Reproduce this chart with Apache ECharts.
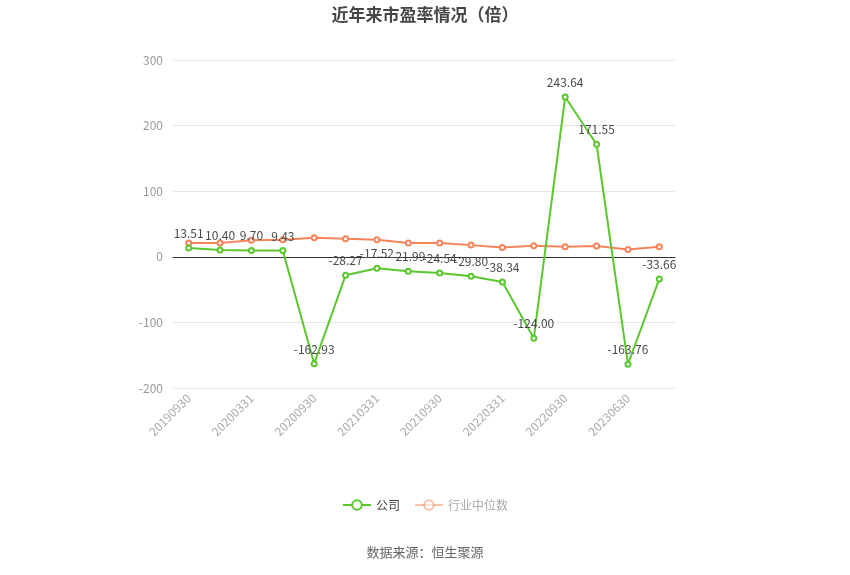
<!DOCTYPE html>
<html>
<head>
<meta charset="utf-8">
<script src="https://cdn.jsdelivr.net/npm/echarts@6/dist/echarts.min.js"></script>
<style>
  html, body { margin: 0; padding: 0; background: #fff; }
  #chart { width: 850px; height: 575px; }
</style>
</head>
<body>
<div id="chart"></div>
<script>
const categories = [
  '20190930', '20191231', '20200331', '20200630', '20200930', '20201231',
  '20210331', '20210630', '20210930', '20211231', '20220331', '20220630',
  '20220930', '20230331', '20230630', '20230930'
];
const companyPE = [
  13.51, 10.40, 9.70, 9.43, -162.93, -28.27, -17.52, -21.99,
  -24.54, -29.80, -38.34, -124.00, 243.64, 171.55, -163.76, -33.66
];
const industryPE = [
  20.9, 20.9, 25.4, 26.0, 29.0, 27.4, 26.0, 21.0,
  21.0, 17.8, 14.2, 16.8, 15.2, 16.3, 11.2, 15.2
];

const fontCN = '"Microsoft YaHei", "Noto Sans CJK SC", sans-serif';
const green = '#5ac72e';
const orange = '#f5845a';

const chart = echarts.init(document.getElementById('chart'));
chart.setOption({
  animation: false,
  textStyle: { fontFamily: fontCN },
  title: {
    text: '近年来市盈率情况（倍）',
    left: 'center',
    top: 1,
    textStyle: { fontSize: 17, fontWeight: 'bold', color: '#464646', fontFamily: fontCN }
  },
  grid: { left: 173, right: 175, top: 60, bottom: 187 },
  legend: {
    bottom: 59,
    left: 'center',
    itemWidth: 28,
    itemHeight: 12,
    itemGap: 14,
    textStyle: { fontSize: 12, fontFamily: fontCN },
    data: [
      { name: '公司', textStyle: { color: '#444' } },
      { name: '行业中位数', textStyle: { color: '#aaa' },
        itemStyle: { opacity: 0.5 }, lineStyle: { opacity: 0.5 } }
    ]
  },
  graphic: [{
    type: 'text',
    left: 'center',
    top: 546,
    style: { text: '数据来源：恒生聚源', fill: '#666', fontSize: 13, fontFamily: fontCN }
  }],
  xAxis: {
    type: 'category',
    data: categories,
    boundaryGap: true,
    axisLine: { onZero: true, lineStyle: { color: '#333' } },
    axisTick: { alignWithLabel: true, interval: 1, lineStyle: { color: '#333' } },
    axisLabel: { rotate: 45, interval: 1, color: '#aaa', fontSize: 12, margin: 8 }
  },
  yAxis: {
    type: 'value',
    min: -200,
    max: 300,
    interval: 100,
    axisLine: { show: false },
    axisTick: { show: false },
    axisLabel: { color: '#999', fontSize: 12, margin: 10 },
    splitLine: { lineStyle: { color: '#e3e7ef' } }
  },
  series: [
    {
      name: '行业中位数',
      type: 'line',
      data: industryPE,
      symbol: 'emptyCircle',
      symbolSize: 5,
      itemStyle: { color: orange },
      lineStyle: { color: orange, width: 2 }
    },
    {
      name: '公司',
      type: 'line',
      data: companyPE,
      symbol: 'emptyCircle',
      symbolSize: 5,
      itemStyle: { color: green },
      lineStyle: { color: green, width: 2 },
      label: {
        show: true,
        position: 'top',
        color: '#4a4a4a',
        fontSize: 12,
        formatter: p => p.value.toFixed(2)
      }
    }
  ]
});
</script>
</body>
</html>
